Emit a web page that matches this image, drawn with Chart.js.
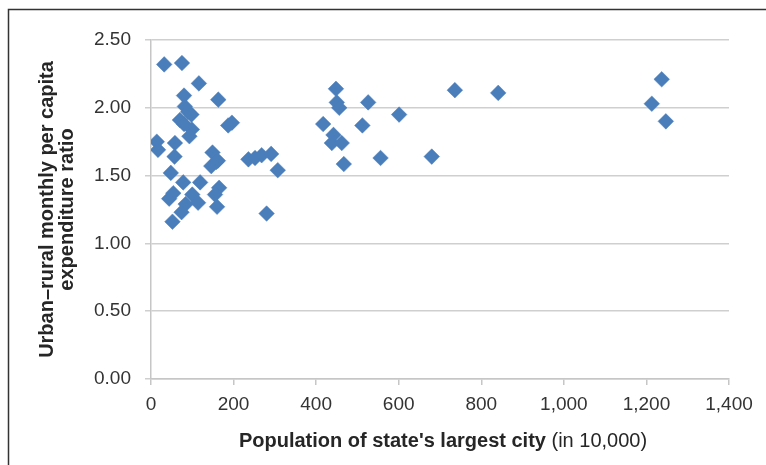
<!DOCTYPE html>
<html>
<head>
<meta charset="utf-8">
<script src="https://cdn.jsdelivr.net/npm/chart.js@4/dist/chart.umd.min.js"></script>
<style>
  html, body { margin: 0; padding: 0; background: #ffffff; }
  #wrap { position: relative; width: 766px; height: 465px; }
</style>
</head>
<body>
<div id="wrap"><canvas id="c" width="766" height="465"></canvas></div>
<script>
// Population of state's largest city (in 10,000)
const populationValues = [
  32, 75, 116, 80, 163, 82, 90, 98, 70, 80, 99, 93, 187, 196,
  14, 17, 58, 57, 149, 162, 146, 158, 236, 252, 268, 291, 307,
  48, 78, 119, 165, 54, 44, 100, 155, 114, 84, 160, 74, 52, 280,
  448, 450, 456, 526, 736, 841, 1237, 1213, 1247, 417, 512, 601,
  442, 438, 462, 467, 556, 680
];
// Urban–rural monthly per capita expenditure ratio
const ratioValues = [
  2.32, 2.33, 2.18, 2.09, 2.06, 2.01, 1.97, 1.95, 1.91, 1.88, 1.84, 1.79, 1.87, 1.89,
  1.75, 1.69, 1.74, 1.64, 1.67, 1.61, 1.57, 1.60, 1.62, 1.63, 1.65, 1.66, 1.54,
  1.52, 1.45, 1.45, 1.41, 1.37, 1.33, 1.36, 1.36, 1.30, 1.29, 1.27, 1.23, 1.16, 1.22,
  2.14, 2.04, 2.00, 2.04, 2.13, 2.11, 2.21, 2.03, 1.90, 1.88, 1.87, 1.95,
  1.80, 1.74, 1.74, 1.585, 1.63, 1.64
];
const xTickValues = [0, 200, 400, 600, 800, 1000, 1200, 1400];
const yTickValues = [0, 0.5, 1.0, 1.5, 2.0, 2.5];
const xTitleBold = "Population of state's largest city";
const xTitleNormal = " (in 10,000)";
const yTitleLines = ["Urban\u2013rural monthly per capita", "expenditure ratio"];

const points = populationValues.map((x, i) => ({ x: x, y: ratioValues[i] }));
const FONT = "'Liberation Sans', Arial, sans-serif";

const decorPlugin = {
  id: 'decor',
  beforeDraw(chart) {
    const ctx = chart.ctx;
    ctx.save();
    ctx.fillStyle = '#ffffff';
    ctx.fillRect(0, 0, chart.width, chart.height);
    ctx.strokeStyle = '#333333';
    ctx.lineWidth = 1.5;
    ctx.beginPath();
    ctx.moveTo(8.5, chart.height);
    ctx.lineTo(8.5, 9.5);
    ctx.lineTo(chart.width, 9.5);
    ctx.stroke();
    ctx.restore();
  },
  afterDraw(chart) {
    const ctx = chart.ctx;
    const area = chart.chartArea;
    ctx.save();
    ctx.fillStyle = '#262626';
    ctx.textBaseline = 'alphabetic';
    // x title: bold part + normal part
    const boldFont = 'bold 20px ' + FONT;
    const normFont = '20px ' + FONT;
    ctx.font = boldFont;
    const wb = ctx.measureText(xTitleBold).width;
    ctx.font = normFont;
    const wn = ctx.measureText(xTitleNormal).width;
    const cx = (area.left + area.right) / 2 + 3;
    let sx = cx - (wb + wn) / 2;
    ctx.textAlign = 'left';
    ctx.font = boldFont;
    ctx.fillText(xTitleBold, sx, 447);
    ctx.font = normFont;
    ctx.fillText(xTitleNormal, sx + wb, 447);
    // y title
    ctx.font = boldFont;
    ctx.textAlign = 'center';
    const cy = (area.top + area.bottom) / 2;
    const baseXs = [53, 73];
    yTitleLines.forEach((line, i) => {
      ctx.save();
      ctx.translate(baseXs[i], cy);
      ctx.rotate(-Math.PI / 2);
      ctx.fillText(line, 0, 0);
      ctx.restore();
    });
    ctx.restore();
  }
};

new Chart(document.getElementById('c'), {
  type: 'scatter',
  data: {
    datasets: [{
      data: points,
      pointStyle: 'rectRot',
      pointRadius: 7.8,
      pointHoverRadius: 7.8,
      backgroundColor: '#4A7EBB',
      borderColor: '#4A7EBB',
      borderWidth: 0.5
    }]
  },
  options: {
    responsive: false,
    animation: false,
    devicePixelRatio: 1,
    layout: { padding: { left: 0, right: 37, top: 40, bottom: 0 } },
    plugins: { legend: { display: false }, tooltip: { enabled: false } },
    scales: {
      x: {
        type: 'linear',
        min: 0, max: 1400,
        afterBuildTicks(scale) { scale.ticks = xTickValues.map(v => ({ value: v })); },
        afterFit(scale) { scale.height = 86; },
        ticks: {
          color: '#333333',
          font: { family: FONT, size: 19 },
          padding: 8,
          maxRotation: 0,
          callback: v => v.toLocaleString('en-US')
        },
        grid: { drawOnChartArea: false, color: '#c6c6c6', lineWidth: 1.5, tickLength: 6 },
        border: { display: true, color: '#c6c6c6', width: 1.5 }
      },
      y: {
        type: 'linear',
        min: 0, max: 2.5,
        afterBuildTicks(scale) { scale.ticks = yTickValues.map(v => ({ value: v })); },
        afterFit(scale) { scale.width = 151; },
        ticks: {
          color: '#333333',
          font: { family: FONT, size: 19 },
          padding: 14,
          callback: v => Number(v).toFixed(2)
        },
        grid: { color: '#cfcfcf', lineWidth: 1.5, tickLength: 6 },
        border: { display: true, color: '#c6c6c6', width: 1.5 }
      }
    }
  },
  plugins: [decorPlugin]
});
</script>
</body>
</html>
